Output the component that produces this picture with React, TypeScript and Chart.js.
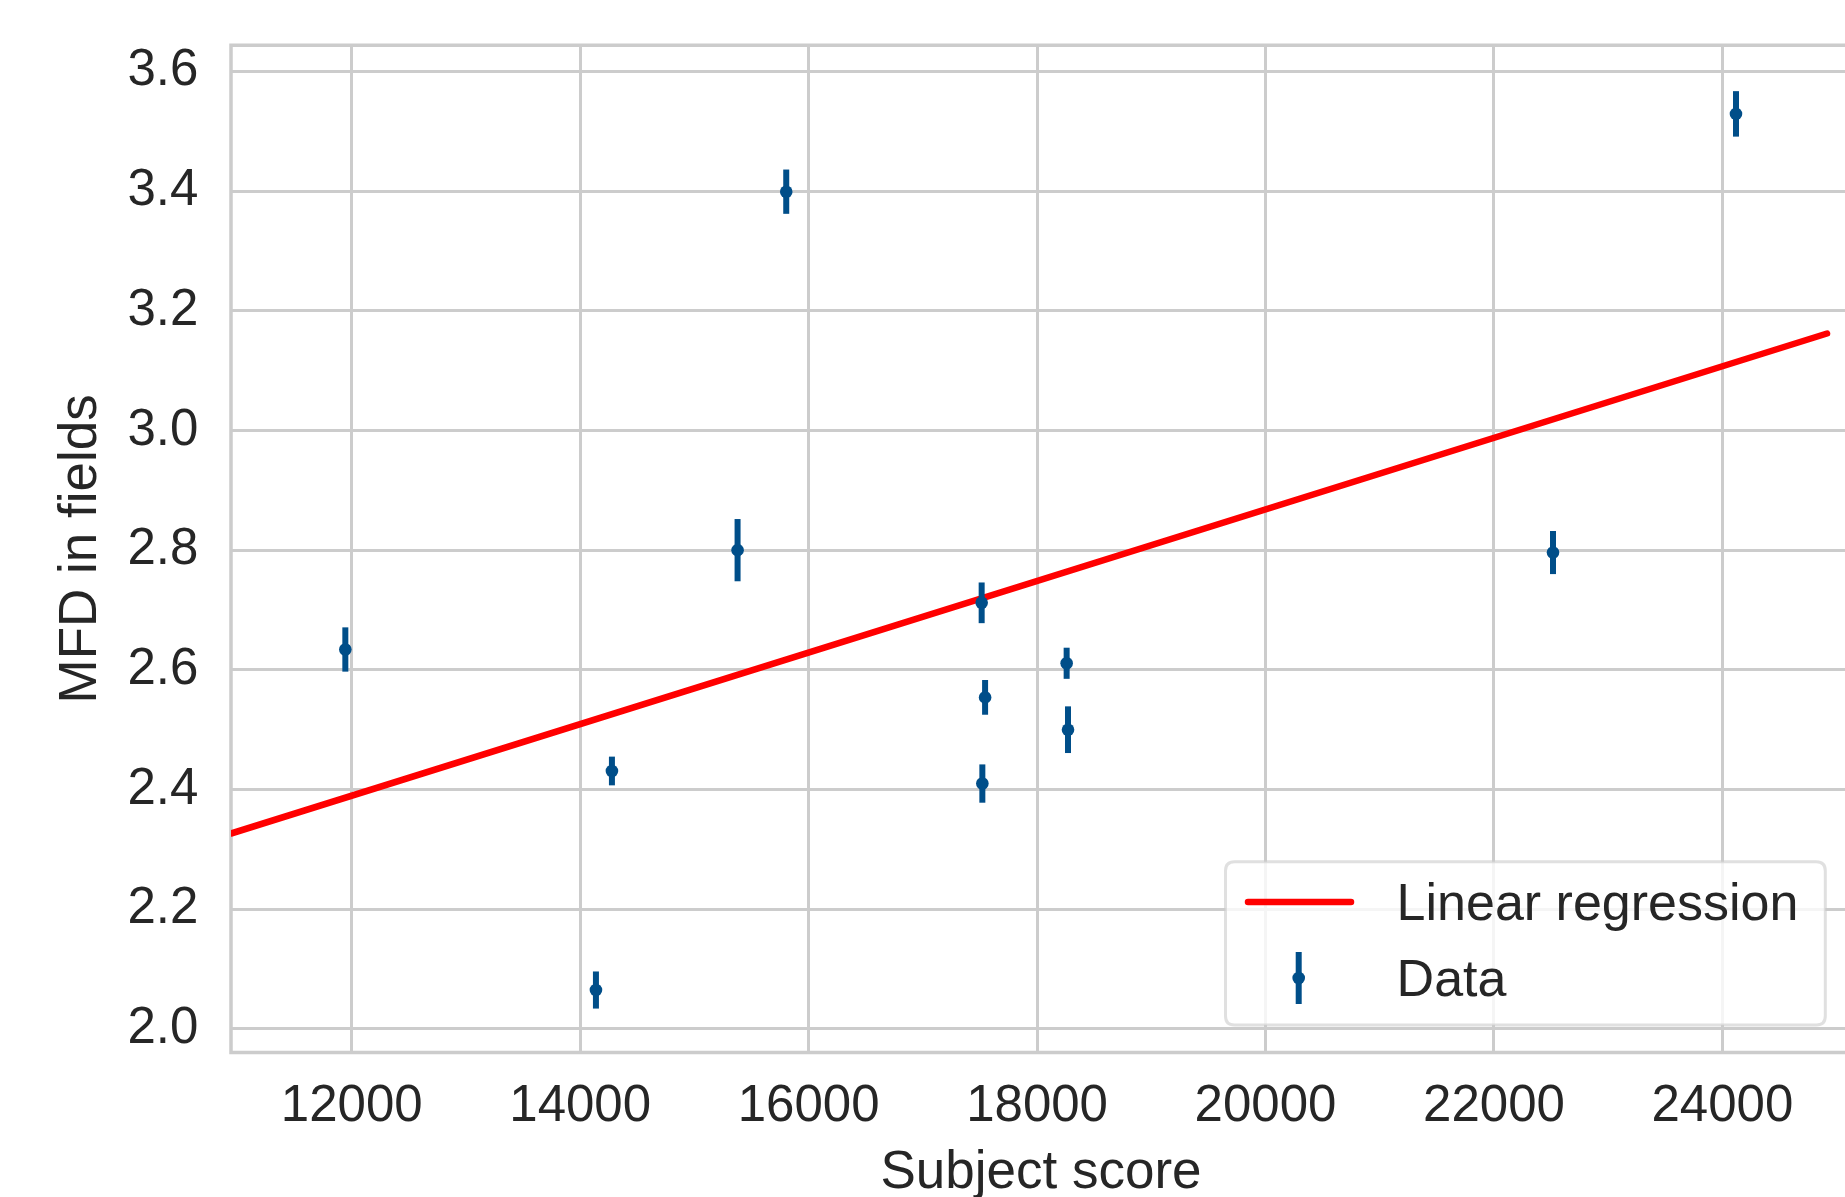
import React, { useEffect, useRef } from "react";
import { Chart, registerables } from "chart.js";

Chart.register(...registerables);

// ---------------- data ----------------
const xValues = [11944, 14138, 14278, 15378, 15804, 17515, 17545, 17521, 18259, 18271, 22517, 24119];
const yValues = [2.634, 2.065, 2.431, 2.8, 3.399, 2.712, 2.554, 2.41, 2.611, 2.5, 2.796, 3.529];
const yErrors = [0.037, 0.031, 0.024, 0.052, 0.037, 0.034, 0.029, 0.032, 0.026, 0.039, 0.036, 0.038];

const regressionX = [10943, 24916];
const regressionY = [2.3265, 3.162];

const xTicks = [12000, 14000, 16000, 18000, 20000, 22000, 24000];
const yTicks = [2.0, 2.2, 2.4, 2.6, 2.8, 3.0, 3.2, 3.4, 3.6];
const xRange = [10943, 25126];
const yRange = [1.9606, 3.6436];

const xLabel = "Subject score";
const yLabel = "MFD in fields";
const seriesLabels = ["Linear regression", "Data"];

// ---------------- styles ----------------
const FONT = "'Liberation Sans', Arial, 'DejaVu Sans', sans-serif";
const TEXT = "#262626";
const GRID = "#cccccc";
const BLUE = "#004e89";
const RED = "#ff0000";

const CANVAS_W = 1860;
const CANVAS_H = 1197;
const AREA_TOP = 45.3;
const AREA_BOTTOM = 1052.5;
const AREA_LEFT = 231;
const AREA_RIGHT = 1851;

const framePlugin = {
  id: "frame",
  beforeDatasetsDraw(chart: any) {
    const { ctx, chartArea: a } = chart;
    ctx.save();
    ctx.strokeStyle = GRID;
    ctx.lineWidth = 3.5;
    ctx.beginPath();
    ctx.moveTo(a.left, a.top);
    ctx.lineTo(a.right, a.top);
    ctx.lineTo(a.right, a.bottom);
    ctx.lineTo(a.left, a.bottom);
    ctx.closePath();
    ctx.stroke();
    ctx.restore();
  },
};

const errorBarPlugin = {
  id: "errorBars",
  beforeDatasetDraw(chart: any, args: any) {
    const ds = chart.data.datasets[args.index];
    if (ds.label !== seriesLabels[1]) return;
    const { ctx } = chart;
    const xs = chart.scales.x;
    const ys = chart.scales.y;
    ctx.save();
    ctx.strokeStyle = BLUE;
    ctx.lineWidth = 6;
    ctx.lineCap = "butt";
    for (let i = 0; i < xValues.length; i++) {
      const px = xs.getPixelForValue(xValues[i]);
      const y0 = ys.getPixelForValue(yValues[i] - yErrors[i]);
      const y1 = ys.getPixelForValue(yValues[i] + yErrors[i]);
      ctx.beginPath();
      ctx.moveTo(px, y0);
      ctx.lineTo(px, y1);
      ctx.stroke();
    }
    ctx.restore();
  },
};

const legendPlugin = {
  id: "mplLegend",
  afterDraw(chart: any) {
    const { ctx } = chart;
    const left = 1225.5, top = 861.7, right = 1825.3, bottom = 1025, r = 9;
    ctx.save();
    ctx.beginPath();
    ctx.moveTo(left + r, top);
    ctx.lineTo(right - r, top);
    ctx.quadraticCurveTo(right, top, right, top + r);
    ctx.lineTo(right, bottom - r);
    ctx.quadraticCurveTo(right, bottom, right - r, bottom);
    ctx.lineTo(left + r, bottom);
    ctx.quadraticCurveTo(left, bottom, left, bottom - r);
    ctx.lineTo(left, top + r);
    ctx.quadraticCurveTo(left, top, left + r, top);
    ctx.closePath();
    ctx.fillStyle = "rgba(255,255,255,0.8)";
    ctx.fill();
    ctx.strokeStyle = "rgba(204,204,204,0.6)";
    ctx.lineWidth = 3;
    ctx.stroke();

    const row1 = 902;
    const row2 = 978;
    ctx.strokeStyle = RED;
    ctx.lineWidth = 6.5;
    ctx.lineCap = "round";
    ctx.beginPath();
    ctx.moveTo(1248, row1);
    ctx.lineTo(1351, row1);
    ctx.stroke();
    ctx.strokeStyle = BLUE;
    ctx.lineWidth = 6;
    ctx.lineCap = "butt";
    ctx.beginPath();
    ctx.moveTo(1298.7, row2 - 26);
    ctx.lineTo(1298.7, row2 + 26);
    ctx.stroke();
    ctx.fillStyle = BLUE;
    ctx.beginPath();
    ctx.arc(1298.7, row2, 6.3, 0, Math.PI * 2);
    ctx.fill();

    ctx.fillStyle = TEXT;
    ctx.font = `52px ${FONT}`;
    ctx.textAlign = "left";
    ctx.textBaseline = "middle";
    ctx.fillText(seriesLabels[0], 1396.6, row1 + 3.5);
    ctx.fillText(seriesLabels[1], 1396.6, row2 + 3.5);
    ctx.restore();
  },
};

export default function App() {
  const ref = useRef<HTMLCanvasElement | null>(null);

  useEffect(() => {
    const canvas = ref.current;
    if (!canvas) return;
    const chart = new Chart(canvas, {
      type: "scatter",
      data: {
        datasets: [
          {
            type: "line",
            label: seriesLabels[0],
            data: regressionX.map((x, i) => ({ x, y: regressionY[i] })),
            borderColor: RED,
            backgroundColor: RED,
            borderWidth: 6.5,
            borderCapStyle: "round",
            pointRadius: 0,
            fill: false,
            order: 2,
          } as any,
          {
            type: "scatter",
            label: seriesLabels[1],
            data: xValues.map((x, i) => ({ x, y: yValues[i] })),
            backgroundColor: BLUE,
            borderColor: BLUE,
            borderWidth: 0,
            pointRadius: 6.3,
            pointHoverRadius: 6.3,
            order: 1,
          } as any,
        ],
      },
      options: {
        animation: false,
        responsive: false,
        devicePixelRatio: 1,
        events: [],
        layout: { padding: { top: AREA_TOP, right: CANVAS_W - AREA_RIGHT, left: 0, bottom: 0 } },
        plugins: {
          legend: { display: false },
          tooltip: { enabled: false },
        },
        scales: {
          x: {
            type: "linear",
            min: xRange[0],
            max: xRange[1],
            afterBuildTicks: (scale: any) => {
              scale.ticks = xTicks.map((v) => ({ value: v }));
            },
            afterFit: (scale: any) => {
              scale.height = CANVAS_H - AREA_BOTTOM;
              scale.paddingLeft = 0;
              scale.paddingRight = 0;
              scale.paddingTop = 0;
              scale.paddingBottom = 0;
            },
            grid: { color: GRID, lineWidth: 3, drawTicks: false },
            border: { display: false },
            ticks: {
              color: TEXT,
              font: { family: FONT, size: 51, lineHeight: 1.2 },
              padding: 23.5,
              maxRotation: 0,
              autoSkip: false,
              callback: (v: any) => String(v),
            },
            title: {
              display: true,
              text: xLabel,
              color: TEXT,
              font: { family: FONT, size: 53, lineHeight: 1 },
              padding: { top: 0, bottom: -2.5 },
            },
          },
          y: {
            type: "linear",
            min: yRange[0],
            max: yRange[1],
            afterBuildTicks: (scale: any) => {
              scale.ticks = yTicks.map((v) => ({ value: v }));
            },
            afterFit: (scale: any) => {
              scale.width = AREA_LEFT;
              scale.paddingLeft = 0;
              scale.paddingRight = 0;
              scale.paddingTop = 0;
              scale.paddingBottom = 0;
            },
            grid: { color: GRID, lineWidth: 3, drawTicks: false },
            border: { display: false },
            ticks: {
              color: TEXT,
              font: { family: FONT, size: 51, lineHeight: 1.2 },
              padding: 32.7,
              autoSkip: false,
              callback: (v: any) => Number(v).toFixed(1),
            },
            title: {
              display: true,
              text: yLabel,
              color: TEXT,
              font: { family: FONT, size: 53, lineHeight: 1 },
              padding: { top: 54.9, bottom: 0 },
            },
          },
        },
      } as any,
      plugins: [framePlugin, errorBarPlugin, legendPlugin],
    });
    return () => chart.destroy();
  }, []);

  return (
    <div
      style={{
        position: "fixed",
        left: 0,
        top: 0,
        width: 1845,
        height: 1197,
        overflow: "hidden",
        background: "#ffffff",
      }}
    >
      <canvas
        ref={ref}
        width={CANVAS_W}
        height={CANVAS_H}
        style={{ display: "block", width: CANVAS_W, height: CANVAS_H }}
      />
    </div>
  );
}
